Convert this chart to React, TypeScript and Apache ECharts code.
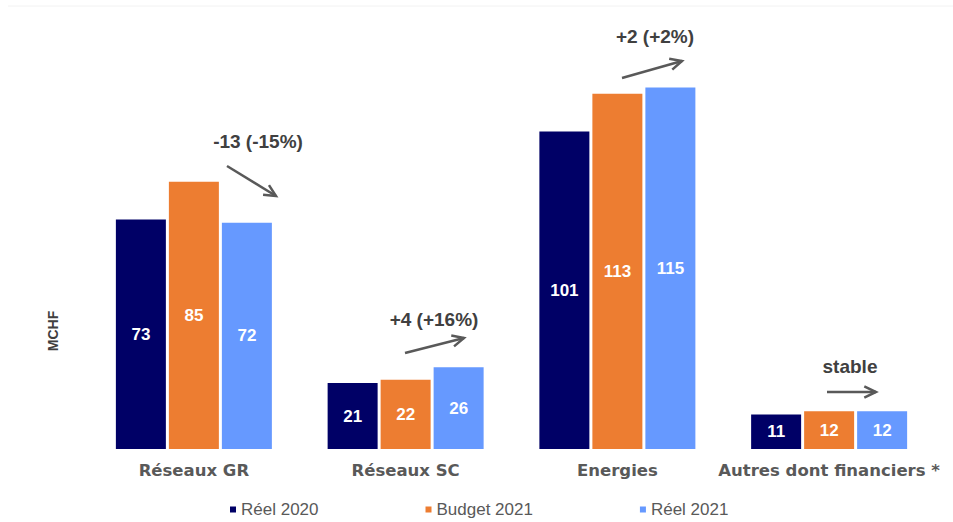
import React, { useEffect, useRef } from "react";
import * as echarts from "echarts";

const categories = ["Réseaux GR", "Réseaux SC", "Energies", "Autres dont financiers *"];
const reel2020 = [73, 21, 101, 11];
const budget2021 = [85, 22, 113, 12];
const reel2021 = [72, 26, 115, 12];
const seriesNames = ["Réel 2020", "Budget 2021", "Réel 2021"];
const annotations = ["-13 (-15%)", "+4 (+16%)", "+2 (+2%)", "stable"];

const COLORS = ["#000066", "#ED7D31", "#6699FF"];
const ARROW = "#595959";

function arrow(x1: number, y1: number, x2: number, y2: number) {
  const ang = Math.atan2(y2 - y1, x2 - x1);
  const L = 13;
  const a1 = ang + Math.PI - 0.45;
  const a2 = ang + Math.PI + 0.45;
  return [
    {
      type: "line",
      shape: { x1, y1, x2, y2 },
      style: { stroke: ARROW, lineWidth: 2.5 },
    },
    {
      type: "polyline",
      shape: {
        points: [
          [x2 + L * Math.cos(a1), y2 + L * Math.sin(a1)],
          [x2, y2],
          [x2 + L * Math.cos(a2), y2 + L * Math.sin(a2)],
        ],
      },
      style: { stroke: ARROW, lineWidth: 2.5, fill: "none" },
    },
  ];
}

function annText(text: string, x: number, y: number) {
  return {
    type: "text",
    x,
    y,
    style: {
      text,
      fill: "#404040",
      font: "bold 19px 'Liberation Sans', Arial, sans-serif",
      align: "center",
      verticalAlign: "middle",
    },
  };
}

export default function App() {
  const ref = useRef<HTMLDivElement>(null);
  useEffect(() => {
    if (!ref.current) return;
    const chart = echarts.init(ref.current, undefined, { renderer: "svg" });
    const label = {
      show: true,
      position: "inside",
      color: "#ffffff",
      fontWeight: "bold",
      fontSize: 17,
      fontFamily: "'Liberation Sans', Arial, sans-serif",
    };
    const datasets = [reel2020, budget2021, reel2021];
    chart.setOption({
      animation: false,
      backgroundColor: "#ffffff",
      grid: { left: 88, right: 18, top: 9, bottom: 73 },
      legend: {
        left: 230,
        top: 501,
        padding: 0,
        itemWidth: 6,
        itemHeight: 6,
        itemGap: 107,
        icon: "rect",
        textStyle: {
          color: "#595959",
          fontSize: 17,
          lineHeight: 17,
          fontFamily: "'Liberation Sans', Arial, sans-serif",
        },
        data: seriesNames,
      },
      xAxis: {
        type: "category",
        data: categories,
        axisLine: { show: false },
        axisTick: { show: false },
        axisLabel: {
          color: "#595959",
          fontWeight: "bold",
          fontSize: 16.5,
          fontFamily: "'DejaVu Sans', Verdana, sans-serif",
          margin: 13,
          interval: 0,
        },
      },
      yAxis: {
        type: "value",
        min: 0,
        max: 140,
        show: false,
        splitLine: { show: false },
      },
      series: seriesNames.map((name, i) => ({
        name,
        type: "bar",
        data: datasets[i],
        barWidth: 50,
        barGap: "6%",
        itemStyle: { color: COLORS[i] },
        label,
      })),
      graphic: [
        {
          type: "line",
          shape: { x1: 8, y1: 6, x2: 953, y2: 6 },
          style: { stroke: "#f2f2f2", lineWidth: 1 },
        },
        {
          type: "text",
          x: 53,
          y: 331,
          rotation: Math.PI / 2,
          style: {
            text: "MCHF",
            fill: "#404040",
            font: "bold 14px 'Liberation Sans', Arial, sans-serif",
            align: "center",
            verticalAlign: "middle",
          },
        },
        annText(annotations[0], 258, 141),
        ...arrow(227, 166, 276, 196),
        annText(annotations[1], 434, 319),
        ...arrow(405, 353, 464, 338),
        annText(annotations[2], 655, 36),
        ...arrow(622, 78, 682, 61),
        annText(annotations[3], 850, 366),
        ...arrow(827, 392, 876, 392),
      ],
    });
    return () => chart.dispose();
  }, []);
  return (
    <div
      ref={ref}
      style={{ position: "fixed", left: 0, top: 0, width: 953, height: 522 }}
    />
  );
}
